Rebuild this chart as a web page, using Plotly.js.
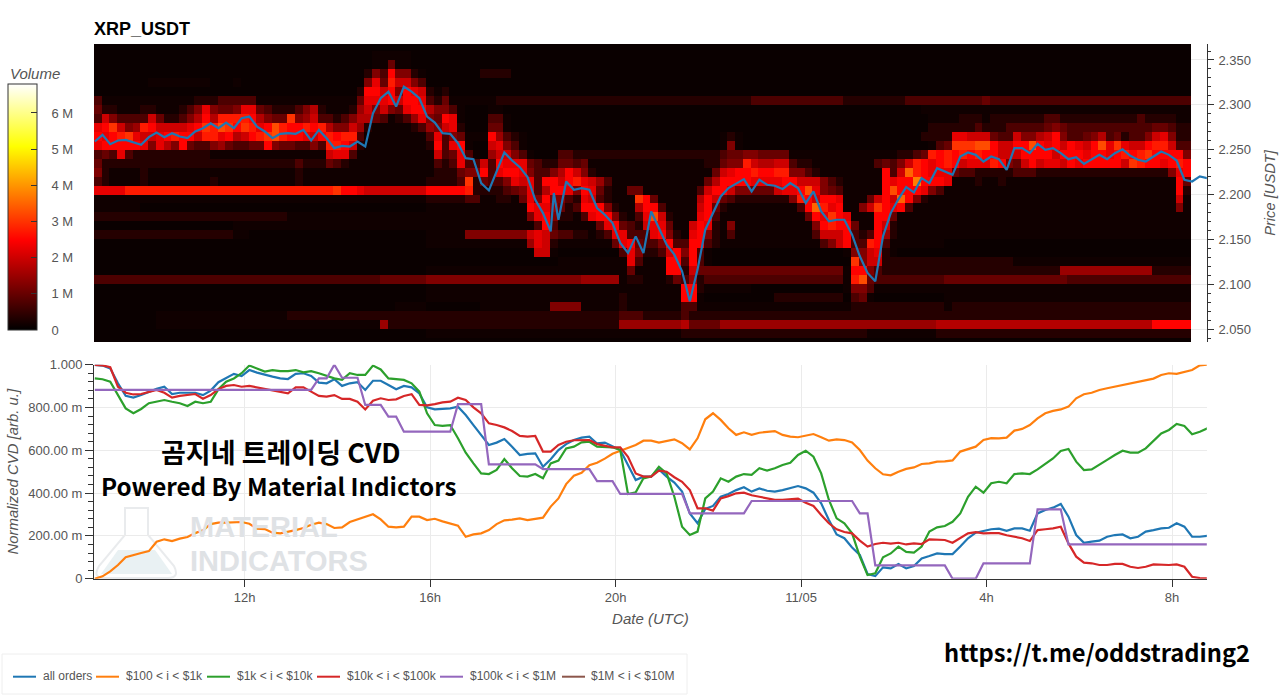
<!DOCTYPE html>
<html><head><meta charset="utf-8">
<script src="https://cdn.plot.ly/plotly-3.0.1.min.js"></script>
<style>html,body{margin:0;padding:0;background:#fff}#c{width:1280px;height:695px}</style>
</head><body><div id="c"></div>
<script>
const seriesNames=['all orders','$100 < i < $1k','$1k < i < $10k','$10k < i < $100k','$100k < i < $1M','$1M < i < $10M'];
const seriesColors=['#1f77b4','#ff7f0e','#2ca02c','#d62728','#9467bd','#8c564b'];
const xTickVals=['2025-11-04 12:00','2025-11-04 16:00','2025-11-04 20:00','2025-11-05 00:00','2025-11-05 04:00','2025-11-05 08:00'];
const xTickText=['12h','16h','20h','11/05','4h','8h'];
const cvdTickVals=[0,0.2,0.4,0.6,0.8,1];
const cvdTickText=['0','200.00 m','400.00 m','600.00 m','800.00 m','1.000'];
const volTickVals=[0,1,2,3,4,5,6];
const volTickText=['0','1 M','2 M','3 M','4 M','5 M','6 M'];
const priceBins=[2.365,2.355,2.345,2.335,2.325,2.315,2.305,2.295,2.285,2.275,2.265,2.255,2.245,2.235,2.225,2.215,2.205,2.195,2.185,2.175,2.165,2.155,2.145,2.135,2.125,2.115,2.105,2.095,2.085,2.075,2.065,2.055,2.045,2.035];
const price=[2.2593,2.2667,2.2563,2.2604,2.2611,2.2581,2.2556,2.2641,2.2693,2.2641,
2.2685,2.2648,2.263,2.2704,2.2741,2.2796,2.2741,2.2804,2.2741,2.2852,
2.287,2.2759,2.2704,2.263,2.2678,2.2685,2.2678,2.2722,2.2604,2.2722,
2.263,2.2519,2.2544,2.2537,2.2593,2.2537,2.2907,2.3074,2.3148,2.2981,
2.3204,2.3148,2.3074,2.287,2.2804,2.2685,2.2678,2.2574,2.2407,2.2396,
2.213,2.2048,2.2259,2.247,2.2381,2.2307,2.2196,2.1944,2.1796,2.1593,
2.1722,2.2148,2.2056,2.2074,2.2056,2.1852,2.1778,2.1685,2.1463,2.1352,
2.1537,2.1352,2.1815,2.163,2.1444,2.1333,2.1148,2.0815,2.1167,2.1611,
2.1796,2.1981,2.2074,2.2122,2.2174,2.2037,2.2167,2.2111,2.21,2.2063,
2.213,2.2074,2.1907,2.2037,2.1815,2.1704,2.1722,2.1722,2.1556,2.1315,
2.113,2.1037,2.1537,2.1796,2.1952,2.2085,2.2026,2.2185,2.213,2.2296,
2.2259,2.2222,2.2426,2.247,2.2444,2.237,2.2426,2.2396,2.2278,2.2519,
2.2519,2.2463,2.2567,2.25,2.2519,2.2463,2.2396,2.2419,2.2344,2.2396,
2.2444,2.2396,2.2463,2.2507,2.2433,2.2389,2.237,2.2426,2.2481,2.2444,
2.2381,2.2167,2.2148,2.2204,2.2185];
const allOrders=[.999,.996,.983,.913,.855,.846,.858,.874,.887,.897,
.863,.869,.869,.869,.858,.879,.918,.936,.957,.947,
.975,.963,.952,.944,.936,.933,.957,.96,.947,.916,
.913,.932,.901,.913,.918,.882,.925,.925,.905,.885,
.901,.894,.866,.801,.791,.793,.796,.804,.765,.718,
.671,.625,.636,.653,.617,.578,.583,.586,.523,.558,
.601,.629,.648,.659,.664,.632,.636,.617,.601,.531,
.461,.477,.477,.511,.477,.449,.407,.305,.259,.326,
.34,.383,.396,.414,.427,.407,.422,.411,.407,.414,
.422,.433,.422,.402,.352,.274,.207,.189,.146,.111,
.022,.012,.053,.048,.069,.048,.059,.095,.106,.118,
.115,.115,.15,.189,.215,.223,.231,.234,.224,.235,
.235,.224,.305,.321,.332,.349,.29,.204,.168,.173,
.178,.196,.204,.207,.189,.196,.22,.227,.235,.238,
.259,.243,.196,.196,.201];
const band100to1k=[0,.011,.034,.064,.1,.111,.12,.129,.173,.184,
.176,.187,.195,.213,.226,.255,.262,.262,.263,.265,
.257,.234,.232,.215,.212,.218,.227,.237,.252,.262,
.255,.237,.24,.265,.277,.287,.301,.277,.243,.24,
.243,.29,.29,.274,.28,.268,.259,.248,.196,.207,
.212,.227,.255,.273,.276,.282,.274,.28,.285,.337,
.375,.442,.481,.495,.53,.542,.561,.584,.598,.609,
.625,.645,.645,.636,.645,.651,.633,.604,.656,.745,
.773,.742,.703,.672,.684,.672,.682,.686,.69,.672,
.664,.661,.67,.676,.661,.645,.651,.648,.637,.601,
.552,.516,.488,.483,.5,.513,.52,.536,.539,.547,
.548,.553,.594,.605,.617,.648,.657,.656,.659,.692,
.7,.718,.749,.773,.784,.791,.804,.843,.862,.869,
.882,.89,.897,.907,.913,.921,.925,.935,.952,.96,
.957,.966,.975,.997,1];
const band1kto10k=[.936,.932,.921,.858,.796,.773,.793,.82,.827,.835,
.827,.82,.807,.827,.82,.827,.885,.921,.936,.96,
.996,.983,.968,.975,.97,.97,.975,.964,.97,.96,
.949,.936,.929,.96,.952,.952,.996,.978,.936,.932,
.929,.913,.874,.773,.718,.714,.718,.656,.589,.539,
.492,.489,.508,.559,.516,.48,.477,.489,.469,.539,
.552,.609,.617,.637,.64,.617,.617,.614,.601,.396,
.404,.469,.477,.523,.492,.383,.243,.204,.22,.375,
.407,.469,.453,.477,.489,.485,.516,.505,.516,.531,
.542,.578,.598,.57,.492,.368,.282,.259,.212,.103,
.017,.025,.1,.118,.15,.125,.122,.15,.22,.24,
.246,.266,.305,.383,.43,.402,.446,.453,.446,.489,
.492,.489,.511,.536,.562,.597,.606,.547,.508,.511,
.531,.555,.578,.598,.589,.589,.609,.645,.679,.695,
.723,.714,.675,.687,.703];
const band10kto100k=[.999,.997,.988,.897,.869,.861,.863,.874,.882,.869,
.846,.854,.86,.863,.841,.858,.886,.901,.905,.897,
.901,.894,.885,.879,.871,.866,.894,.894,.874,.854,
.851,.858,.84,.84,.827,.791,.832,.843,.835,.838,
.854,.862,.812,.81,.816,.824,.827,.846,.835,.801,
.773,.726,.718,.707,.69,.667,.664,.667,.594,.594,
.625,.64,.647,.648,.648,.629,.62,.614,.614,.57,
.492,.477,.477,.505,.5,.474,.453,.414,.329,.329,
.318,.375,.386,.399,.402,.39,.383,.375,.368,.368,
.372,.374,.355,.34,.298,.259,.231,.218,.212,.178,
.15,.162,.168,.164,.168,.16,.165,.162,.184,.182,
.181,.168,.189,.212,.218,.212,.213,.213,.203,.196,
.189,.176,.227,.231,.235,.243,.165,.103,.075,.072,
.064,.064,.069,.069,.056,.05,.056,.067,.064,.064,
.067,.056,.009,.003,.002];
const band100kto1M=[.882,.882,.882,.882,.882,.882,.882,.882,.882,.882,
.882,.882,.882,.882,.882,.882,.882,.882,.882,.882,
.882,.882,.882,.882,.882,.882,.882,.882,.882,.936,
.936,1,.939,.939,.939,.812,.812,.812,.757,.757,
.687,.687,.687,.687,.687,.687,.687,.816,.816,.816,
.816,.534,.534,.534,.534,.534,.534,.534,.512,.512,
.512,.512,.512,.512,.512,.456,.456,.456,.396,.396,
.396,.396,.396,.396,.396,.396,.396,.305,.305,.305,
.305,.305,.305,.305,.305,.363,.363,.363,.363,.363,
.363,.363,.363,.363,.363,.363,.363,.363,.363,.305,
.305,.062,.062,.062,.062,.062,.062,.062,.062,.062,
.062,0,0,0,0,.072,.072,.072,.072,.072,
.072,.072,.324,.324,.324,.324,.16,.16,.16,.16,
.16,.16,.16,.16,.16,.16,.16,.16,.16,.16,
.16,.16,.16,.16,.16];
// Volume in millions for each level character (base-36).
const levelVolumes=[0.1,0.16,0.36,0.75,1,1.25,1.5,1.75,2,2.25,2.5,2.75,3,3.25,3.5,3.75];
// One character per 10-minute column, rows from the top price bin down.
const volumeRows=[
'0000000000 0000000000 0000000000 0000000000 0000000000 0000000000 0000000000 0000000000 0000000000 0000000000 0000000000 0000000000 0000000000 0000000000 00',
'0000000000 0000000000 0000000000 0000001111 1000000000 0000000000 0000000000 0000000000 0000000000 0000000000 0000000000 0000000000 0000000000 0000000000 00',
'0000000000 0000000000 0000000000 0000001141 1000000000 0000000000 0000000000 0000000000 0000000000 0000000000 0000000000 0000000000 0000000000 0000000000 00',
'0000000000 0000000000 0000000000 00000253a5 5210000000 2222000000 0000000000 0000000000 0000000000 0000000000 0000000000 0000000000 0000000000 0000000000 00',
'0000000111 1111100010 0000000000 00000594b8 8530000000 0000000000 0000000000 0000000000 0000000000 0000000000 0000000000 0000000000 0000000000 0000000000 00',
'0000000000 0000000000 0000000000 00002aa8a5 a982120000 0000000000 0000000000 0000000000 0000000000 0000000000 0000000000 0000000000 0000000000 0000000000 00',
'3111111111 1112223333 3111111111 11114999a8 aa93241111 1122222222 2222222222 2222222222 2222233333 3333333222 2222233333 3333343333 3333333333 3333333333 33',
'4221112211 1235954459 9432223572 1112685854 9aa7553100 0110000000 0000000000 0000000000 0000000000 0000000000 0000000111 1111111111 1111111111 1111111111 11',
'3853333842 2357a7bbbb a7544c5683 3235774312 36954a9100 0331000000 0000000000 0000000000 0000000000 0000000000 0000000011 1122212222 2223322222 2222232222 11',
'9ac856ba88 889acbdcac b9adbaabab 7558621111 1236589200 0441000000 0000000000 0000000000 0000000000 0000000000 0000000022 2222322233 3334543333 3333333443 22',
'a9abc9889a baa8bb9a78 abcdbaa98a babb311111 1113935411 1a63210000 0000000000 0000000000 0121000000 0000000000 0000000222 2998884338 5578a53345 7342335895 22',
'9aaaaa9597 5a43356433 44a5443353 bba8211111 1112a39a10 0895310000 0000000000 0000000000 0151000000 0000000000 0000000013 4cccdda88a ada9a8a98a d9c988abb8 33',
'3439322222 2222211111 1111111111 8993111111 1111834931 0688531000 3322222222 2222222222 2344554444 1111111111 11112234ba bababaa888 aaaa8aaa9a a9ababcaaa a5',
'4222222222 2222222222 2222223222 4321111111 1111323933 83a9994322 4434111111 1111111112 2455b87788 3221111111 134358ba9a ba8999ba54 8a8998a9aa aaa8cbaa9a ba',
'5211112111 1111111111 1111112111 1111111111 1111222455 a39aa95335 7a85211111 1111111111 489aabaabb 5532111111 11a38eba99 9433222223 3322222222 2222222225 9a',
'3211112111 1111121111 1111112111 1111111111 11122223c2 43359893aa 8ab9863111 1111111114 7aaaa9999a a888532111 11a9aafaaa 9111211211 1111111111 1111111111 a4',
'9999bbbbbb bbbbbbbbbb bbbbbbbbbb bcaa988888 888aaaaab2 222345937a a95a942114 4111111138 aa85544489 9ad9543111 11adaaa953 1111111111 1111111111 1111111111 a2',
'1111111111 1111111111 1111111111 1111111111 1112222233 11221495a5 5329832111 ca4111117a 8432222222 5ba8aa9111 48a8ea5211 1111111111 1111111111 1111111111 81',
'1111110000 0000000000 0000000000 0000000000 0001111111 111111a996 423aaa5211 7aa311118a 4211111111 13aeb9a115 8ca9a31111 1111111111 1111111111 1111111111 51',
'2222222222 2222222222 2222211111 1111111111 1111111111 11111159a5 22139aa521 39d821119a 3111111111 114a9ca911 1aa4111111 1111111111 1111111111 1111111111 11',
'0000000000 0000000011 1111111111 1111111111 1111111111 11111113a3 1111149a43 28994118a9 2151111111 1115abaa41 1a82111111 1111111111 1111111111 1111111111 11',
'2222222222 2222222211 0000000000 0000000000 0001111155 5555558984 3322123993 339a5219a5 2131111111 1113888a32 3a62111111 1111111111 1111111111 1111111111 11',
'0000000000 0000000000 0000000000 0000000000 0001111111 1111116982 111111149a 4335a33aa3 2111111111 1111358a33 ba31111111 0000000000 0000000000 0000000000 00',
'0000000000 0000000000 0000000000 0000000000 0000000000 0000000881 0000000039 52238a5a31 0000000000 0000000155 8921000000 0000000000 0000000000 0000000000 00',
'0000000000 0000000000 0000000000 0000000000 0000000000 0000000000 1111111119 3111aa3a31 0000000000 00000000c5 8822222222 2222222221 1111111111 1111111111 11',
'0000000000 0000000000 0000000000 0000000000 0001111111 1111111111 1111111114 1111aa2844 4444444444 44444441aa 5322222222 2222222222 2222266666 6666666222 22',
'3333333333 3333333333 3333333333 3333333444 4445555555 5555555555 5556666612 2111243623 3333333333 33333331bd 4333333333 4444444444 4444443333 3333333333 33',
'0000000000 0000000000 0000000000 0000000000 0001111111 1111111111 1111111111 111111aa21 1111100000 0000000155 3111111111 1111111111 1111111111 1111111111 11',
'0000000000 0000000000 0000000000 0000000000 0001111111 1111111111 1111111121 111111aa10 0000000022 2222222034 1000000000 1111111111 1111111111 1111111111 11',
'0000000000 0000000000 0000000000 0000000001 1110000000 1111111115 5551111121 1111113311 1111111111 1111111122 2222222222 1222222222 2222222222 2222222222 22',
'0000000011 1111111111 1111122222 2222222222 2222222222 2222222222 2222222233 3222223222 2222222222 2222222222 2222222222 2222222222 2222222222 2222222222 22',
'0000000011 1111111111 1111111111 1111111622 2222222222 2222222222 2222222266 6666667444 4666666666 6666666666 6666666667 7777777777 7777777777 7777777aaa aa',
'0000000000 0000000000 0000000000 0000000000 0001111111 1111111111 1111111111 1111112222 2222222222 2222222222 1111111112 2222222222 2222222222 2222222222 22',
'0000000000 0000000000 0000000000 0000000000 0000000000 0000000000 0000000000 0000000000 0000000000 0000000000 0000000000 0000000000 0000000000 0000000000 00'
];
const W=1280,H=695;
const px=x=>x/W, py=y=>1-y/H;
const stamp=m=>new Date(Date.UTC(2025,10,4,8,45)+m*60000).toISOString().slice(0,16).replace('T',' ');
const lineTime=price.map((_,i)=>stamp(1+i*10));
const colTime=Array.from({length:142},(_,j)=>stamp(5+j*10));
const z=volumeRows.map(r=>r.replace(/ /g,'').split('').map(c=>levelVolumes[parseInt(c,36)]));
const xRange=[stamp(0),stamp(1440)];
const grid='#ebebeb',ink='#333',txt='#555',fam='"Liberation Sans",Arial,sans-serif';
const tf={family:fam,size:12.5,color:txt};
const priceTime=lineTime.slice(),priceLine=price.slice();
priceTime.splice(60,0,stamp(595));priceLine.splice(60,0,2.2019);
const traces=[
{type:'heatmap',x:colTime,y:priceBins,z:z,xaxis:'x',yaxis:'y',zmin:0,zmax:6.8,zsmooth:false,hoverinfo:'skip',
 colorscale:[[0,'#000000'],[0.365,'#ff0000'],[0.746,'#ffff00'],[1,'#ffffff']],
 colorbar:{x:px(8),xref:'paper',xanchor:'left',xpad:0,ypad:0,thickness:29,thicknessmode:'pixels',len:245.5,lenmode:'pixels',
  y:py(330),yref:'paper',yanchor:'bottom',tickmode:'array',tickvals:volTickVals,ticktext:volTickText.map(t=>'\u00a0\u00a0\u00a0'+t),
  ticks:'inside',ticklen:6,tickcolor:ink,outlinecolor:ink,outlinewidth:1,tickfont:{family:fam,size:13,color:txt},title:{text:''}}},
{type:'scatter',mode:'lines',x:priceTime,y:priceLine,xaxis:'x',yaxis:'y',line:{color:seriesColors[0],width:2.2},showlegend:false}
];
[allOrders,band100to1k,band1kto10k,band10kto100k,band100kto1M].forEach((v,k)=>traces.push(
 {type:'scatter',mode:'lines',name:seriesNames[k],x:lineTime,y:v,xaxis:'x2',yaxis:'y2',line:{color:seriesColors[k],width:2.2},showlegend:false}));
traces.push({type:'scatter',mode:'lines',name:seriesNames[5],x:[lineTime[0]],y:[null],xaxis:'x2',yaxis:'y2',line:{color:seriesColors[5],width:2},showlegend:false});

const ann=(text,x,y,o={})=>Object.assign({text,x:px(x),y:py(y),xref:'paper',yref:'paper',showarrow:false,xanchor:'left',yanchor:'middle',font:{family:fam,size:12,color:txt}},o);
const korean='"Noto Sans CJK KR","Noto Sans",sans-serif';
const legendSpots=[[13,41],[96,124],[207,235],[317,345],[440,468],[562,589]];
const annotations=[
 ann('<i>Volume</i>',8,74,{font:{family:fam,size:15,color:txt}}),
 ann('<b>MATERIAL</b>',188,527,{font:{family:fam,size:29,color:'#dfe2e5'}}),
 ann('<b>INDICATORS</b>',188,561,{font:{family:fam,size:29,color:'#dfe2e5'}}),
 ann('<b>곰지네 트레이딩 CVD</b>',281,451,{xanchor:'center',font:{family:korean,size:27,color:'#000'}}),
 ann('<b>Powered By Material Indictors</b>',99,485,{font:{family:korean,size:24.2,color:'#000'}}),
 ann('<b>https://t.me/oddstrading2</b>',942,652,{font:{family:korean,size:23.7,color:'#000'}})
];
const flask='M125 508 L148 508 L148 535 L174 566 Q180 578 168 578 L104 578 Q92 578 99 566 L125 535 Z';
const pathPx=p=>p.replace(/([MLQ]?)(\d+) (\d+)/g,(m,c,a,b)=>c+(+a/W).toFixed(5)+','+(1-b/H).toFixed(5));
const shapes=[
 {type:'path',xref:'paper',yref:'paper',path:pathPx(flask),line:{color:'#e9ebed',width:2},fillcolor:'rgba(255,255,255,0)',layer:'below'},
 {type:'path',xref:'paper',yref:'paper',path:pathPx('M118 550 L155 550 L172 574 L101 574 Z'),line:{width:0},fillcolor:'#e9f1f3',layer:'below'},
 {type:'rect',xref:'paper',yref:'paper',x0:px(2),x1:px(687),y0:py(694),y1:py(654),line:{color:'#eeeeee',width:1},fillcolor:'rgba(255,255,255,0)'}
];
seriesNames.forEach((n,k)=>{
 const [a,b]=legendSpots[k];
 shapes.push({type:'line',xref:'paper',yref:'paper',x0:px(a),x1:px(a+23),y0:py(676.7),y1:py(676.7),line:{color:seriesColors[k],width:2}});
 annotations.push(ann(n,b,676,{font:{family:fam,size:12,color:txt}}));
});
const layout={
 width:W,height:H,margin:{l:0,r:0,t:0,b:0,autoexpand:false},paper_bgcolor:'#fff',plot_bgcolor:'#fff',showlegend:false,
 title:{text:'<b>XRP_USDT</b>',x:px(94),xanchor:'left',xref:'paper',y:py(29),yanchor:'middle',yref:'paper',font:{family:fam,size:18,color:'#000'}},
 xaxis:{domain:[px(94),px(1206.8)],range:xRange,type:'date',anchor:'y',visible:false,showgrid:false,zeroline:false},
 yaxis:{domain:[py(342),py(44)],range:[2.0361,2.3678],side:'right',anchor:'x',showgrid:true,gridcolor:grid,zeroline:false,showline:true,linecolor:ink,linewidth:1,
  tick0:2.05,dtick:0.05,tickformat:'.3f',ticks:'outside',ticklen:6,tickcolor:ink,tickfont:{family:fam,size:13,color:txt},ticklabelstandoff:2,
  minor:{ticks:'outside',ticklen:3,tickcolor:ink,dtick:0.01,tick0:2.05,showgrid:false},
  title:{text:'<i>Price [USDT]</i>',font:{family:fam,size:14.7,color:txt},standoff:14}},
 xaxis2:{domain:[px(94),px(1206.8)],range:xRange,type:'date',anchor:'y2',showgrid:true,gridcolor:grid,zeroline:false,showline:true,linecolor:ink,linewidth:1,
  tickmode:'array',tickvals:xTickVals,ticktext:xTickText,ticks:'outside',ticklen:7,tickcolor:ink,tickfont:{family:fam,size:13,color:txt},
  title:{text:'<i>Date (UTC)</i>',font:{family:fam,size:15,color:txt},standoff:9}},
 yaxis2:{domain:[py(578.7),py(364.7)],range:[0,1],anchor:'x2',showgrid:true,gridcolor:grid,zeroline:false,showline:true,linecolor:ink,linewidth:1,
  tickmode:'array',tickvals:cvdTickVals,ticktext:cvdTickText,ticks:'outside',ticklen:8,tickcolor:ink,tickfont:{family:fam,size:13,color:txt},
  minor:{ticks:'outside',ticklen:5,tickcolor:ink,tickmode:'linear',tick0:0,dtick:0.04,showgrid:false},
  title:{text:'<i>Normalized CVD [arb. u.]</i>',font:{family:fam,size:14.9,color:txt},standoff:5}},
 annotations,shapes
};
Plotly.newPlot('c',traces,layout,{displayModeBar:false,responsive:false});
</script></body></html>
